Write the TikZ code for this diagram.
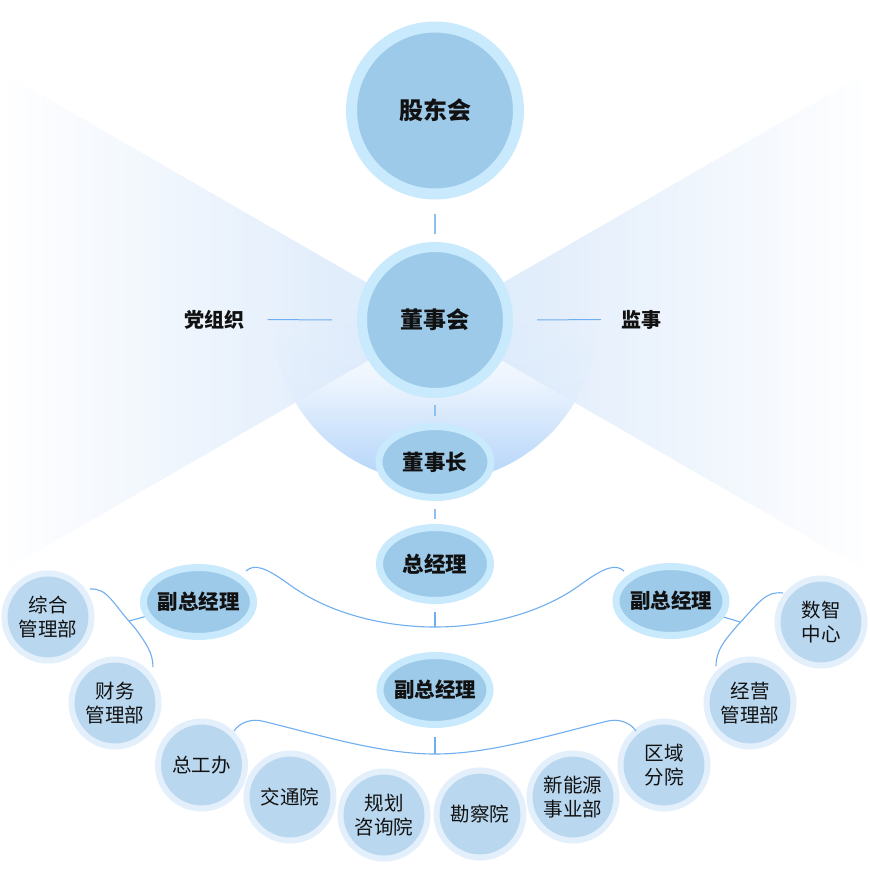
\documentclass[tikz,border=0pt]{standalone}
\usepackage{fontspec}
\setmainfont{Noto Sans CJK SC}
\usetikzlibrary{shapes.geometric,calc}
\definecolor{ringM}{HTML}{C8EAFC}
\definecolor{fillM}{HTML}{9ECAEA}
\definecolor{ringS}{HTML}{E3F0FC}
\definecolor{fillS}{HTML}{B9D7EF}
\definecolor{lineC}{HTML}{6FAEF0}
\definecolor{stubC}{HTML}{8DC0EE}
\definecolor{fanC}{HTML}{D3E5FA}
\definecolor{bowlB}{HTML}{B3D4FA}
\definecolor{bowlM}{HTML}{CCE2FB}
\definecolor{bowlL}{HTML}{EEF5FE}
\definecolor{txt}{HTML}{111111}
\pgfdeclareverticalshading{bowlshade}{100bp}{color(0bp)=(bowlB); color(25bp)=(bowlB); color(32bp)=(bowlM); color(41bp)=(bowlL); color(50bp)=(white); color(100bp)=(white)}
\begin{document}
\begin{tikzpicture}[x=1pt,y=-1pt,
  mainC/.style={circle, draw=ringM, fill=fillM, inner sep=0pt, text=txt},
  mainE/.style={ellipse, draw=ringM, fill=fillM, inner sep=0pt, line width=7pt, text=txt},
  subC/.style={circle, draw=ringS, fill=fillS, line width=6pt, minimum size=87pt, inner sep=0pt, align=center, text=txt, font=\fontsize{19.5}{24}\selectfont},
  conn/.style={draw=lineC, line width=1.1pt},
  stub/.style={draw=stubC, line width=1.2pt},
  lbl/.style={inner sep=0pt, text=txt, font=\bfseries\fontsize{20}{24}\selectfont}]
\useasboundingbox (0,0) rectangle (870,871);
\fill[white] (0,0) rectangle (870,871);
% background bowl
\coordinate (apex) at (435,322);
\shade[shading=bowlshade] (435,320) circle[radius=162];
% fans
\shade[left color=white, right color=fanC, fill opacity=.85] (0,71) -- (apex) -- (0,573) -- cycle;
\shade[left color=fanC, right color=white, fill opacity=.85] (870,71) -- (apex) -- (870,573) -- cycle;

% main nodes
\node[mainC, minimum size=167pt, line width=11pt, font=\bfseries\fontsize{24}{28}\selectfont] (gd) at (435,110.5) {\makebox[0pt]{股东会}};
\node[mainC, minimum size=146pt, line width=10pt, font=\bfseries\fontsize{23}{28}\selectfont] (dsh) at (435,320) {\makebox[0pt]{董事会}};
\node[mainE, minimum width=112pt, minimum height=71pt, font=\bfseries\fontsize{21.5}{26}\selectfont] (dsz) at (435,462) {\makebox[0pt]{董事长}};
\node[mainE, minimum width=111pt, minimum height=73pt, font=\bfseries\fontsize{21.5}{26}\selectfont] (zjl) at (435,564) {\makebox[0pt]{总经理}};
\node[mainE, minimum width=110pt, minimum height=69pt, font=\bfseries\fontsize{20.5}{24}\selectfont] (fzL) at (198.5,602) {\makebox[0pt]{副总经理}};
\node[mainE, minimum width=110pt, minimum height=69pt, font=\bfseries\fontsize{20.5}{24}\selectfont] (fzR) at (671,601) {\makebox[0pt]{副总经理}};
\node[mainE, minimum width=110pt, minimum height=69pt, font=\bfseries\fontsize{20.5}{24}\selectfont] (fzC) at (435,690) {\makebox[0pt]{副总经理}};

\node[lbl] (dzz) at (214,319.5) {党组织};
\node[lbl] (js) at (641.5,319.5) {监事};

% sub nodes
\node[subC] (zh) at (48,617) {综合\\管理部};
\node[subC] (cw) at (115,703) {财务\\管理部};
\node[subC] (sz) at (821,622) {数智\\中心};
\node[subC] (jy) at (750,703) {经营\\管理部};
\node[subC] (zgb) at (201.5,765) {总工办};
\node[subC] (jty) at (290,797) {交通院};
\node[subC] (gh) at (384,815) {规划\\咨询院};
\node[subC] (kc) at (480,814) {勘察院};
\node[subC] (xny) at (573,797) {新能源\\事业部};
\node[subC] (qy) at (664,765) {区域\\分院};

% stubs
\draw[stub, shorten <=14pt, shorten >=8pt] (gd.south) -- (dsh.north);
\draw[stub, shorten <=7pt, shorten >=7pt] (dsh.south) -- (dsz.north);
\draw[stub, shorten <=7.5pt, shorten >=5pt] (dsz.south) -- (zjl.north);
\draw[conn, line width=1pt, shorten <=23.5pt, shorten >=25pt] (dzz.east) -- (dsh.west);
\draw[conn, line width=1pt, shorten <=24pt, shorten >=20.5pt] (dsh.east) -- (js.west);

% upper bracket
\coordinate (u1) at (246,571);
\coordinate (u2) at (624,571);
\coordinate (ub) at (435,627);
\draw[conn] (u1) .. controls (254,564) and (264,566) .. (290,585)
  .. controls (330,614) and (385,627) .. (ub)
  .. controls (485,627) and (540,614) .. (580,585)
  .. controls (606,566) and (616,564) .. (u2);
\draw[conn, shorten <=8pt] (zjl.south) -- (ub);

% lower bracket
\coordinate (l1) at (234,731);
\coordinate (l2) at (636,731);
\coordinate (lb) at (435,754);
\draw[conn] (l1) .. controls (240,722) and (252,718.6) .. (262,721)
  .. controls (320,735) and (380,754) .. (lb)
  .. controls (490,754) and (550,735) .. (608,721)
  .. controls (618,718.6) and (630,722) .. (l2);
\draw[conn, shorten <=9pt] (fzC.south) -- (lb);

% left side branch
\coordinate (sL1) at (90,589);
\coordinate (sL2) at (153,667);
\coordinate (bL) at (129,621);
\draw[conn] (sL1) .. controls (108,588) and (112,603) .. (135,628)
  .. controls (145,642) and (153,652) .. (sL2);
\draw[conn] (fzL) -- (bL);

% right side branch
\coordinate (sR1) at (783,593);
\coordinate (sR2) at (716,666);
\coordinate (bR) at (740,622);
\draw[conn] (sR1) .. controls (766,591) and (760,601) .. (737,626)
  .. controls (725,640) and (716,650) .. (sR2);
\draw[conn] (fzR) -- (bR);
\end{tikzpicture}
\end{document}
